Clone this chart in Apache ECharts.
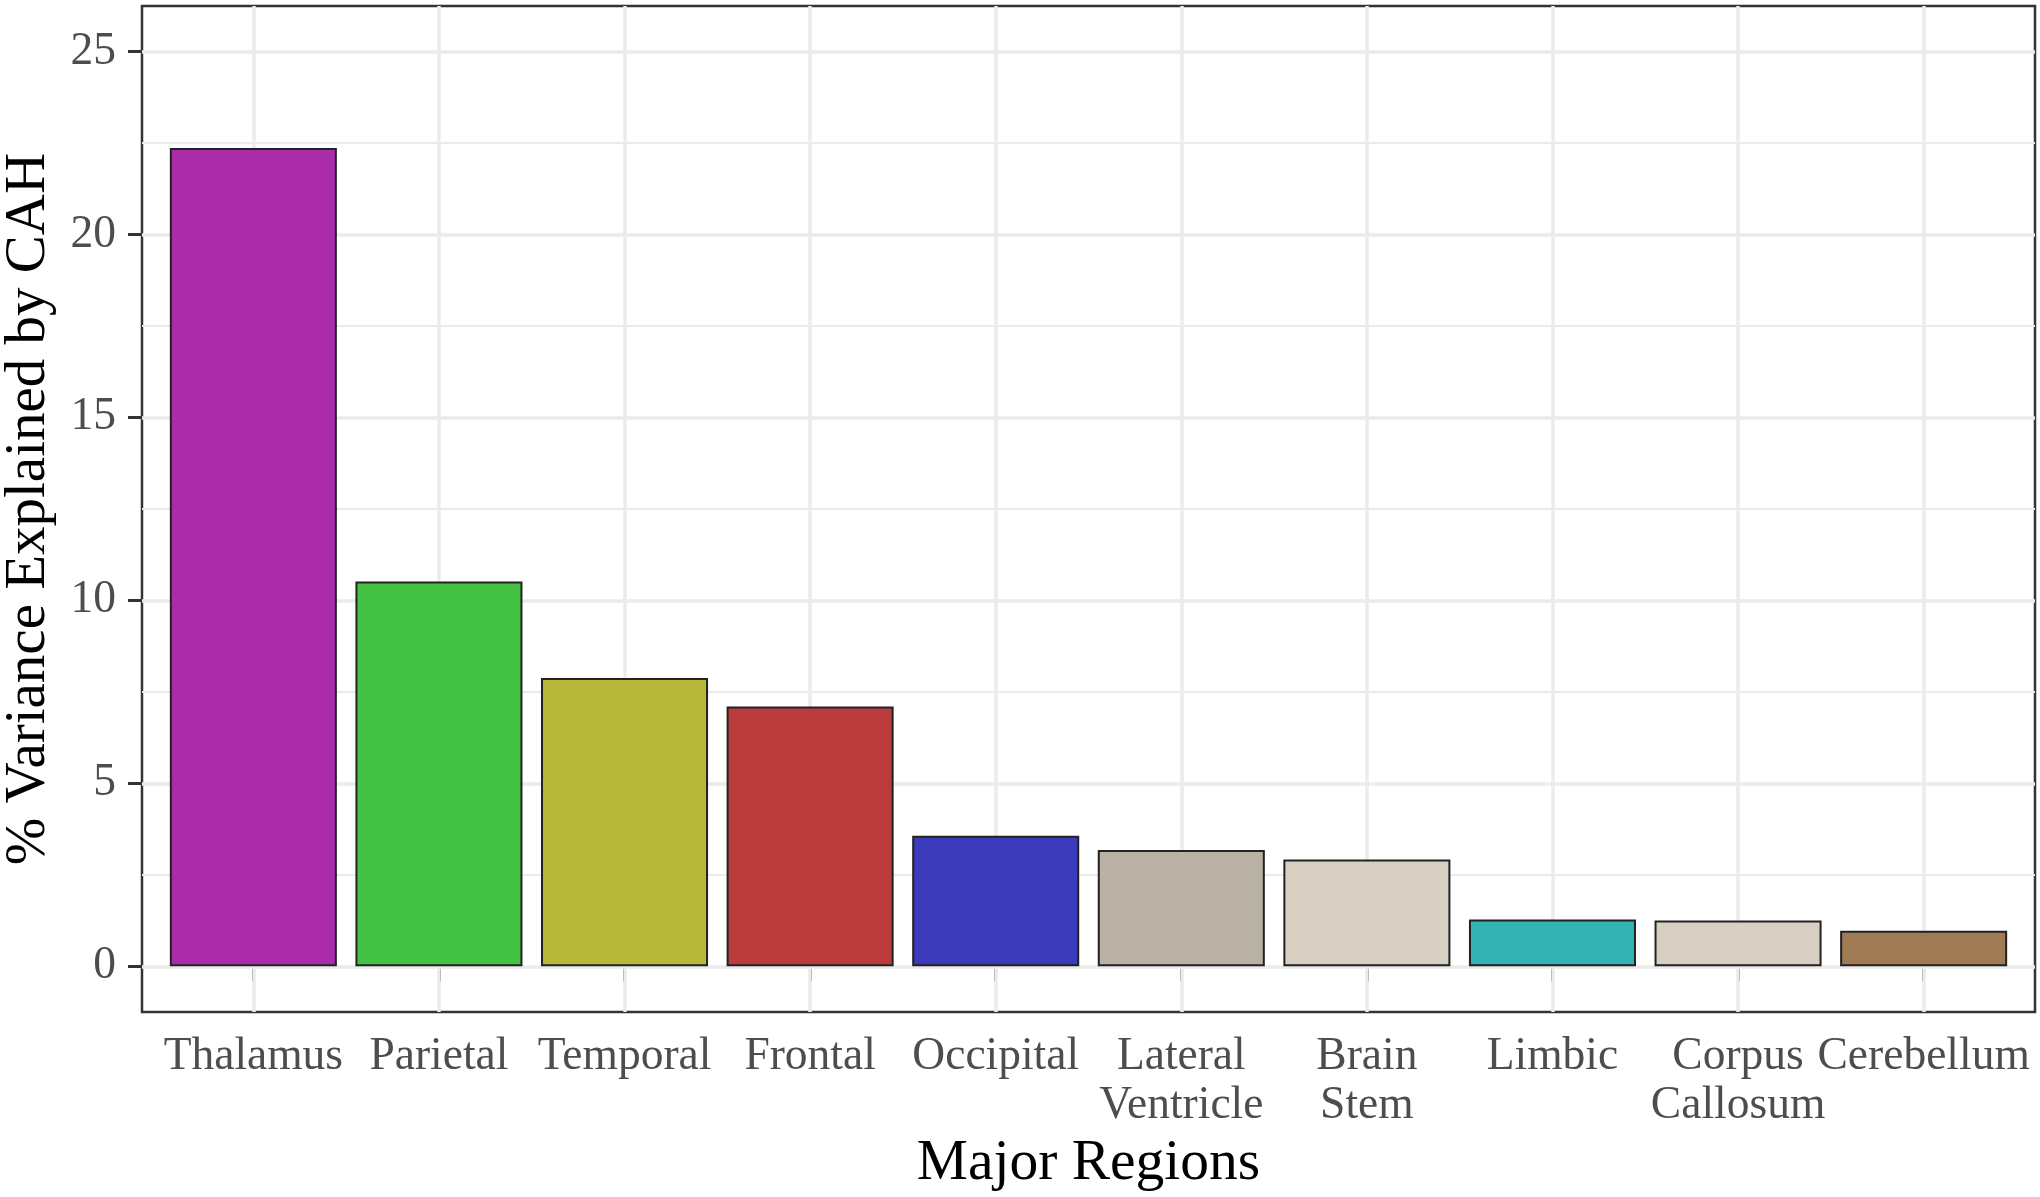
<!DOCTYPE html>
<html>
<head>
<meta charset="utf-8">
<script src="https://cdn.jsdelivr.net/npm/echarts@6/dist/echarts.min.js"></script>
<style>
html,body{margin:0;padding:0;background:#fff;}
#chart{width:2040px;height:1197px;}
</style>
</head>
<body>
<div id="chart"></div>
<script>
const categories = ['Thalamus','Parietal','Temporal','Frontal','Occipital','Lateral\nVentricle','Brain\nStem','Limbic','Corpus\nCallosum','Cerebellum'];
const values = [22.37, 10.52, 7.88, 7.10, 3.57, 3.18, 2.92, 1.28, 1.25, 0.97];
const barColors = ['#AA2CAA','#44C244','#B8B83A','#BA3C3C','#3A3ABA','#B9B1A3','#D7CFC2','#33B3B3','#D7CFC2','#9F7A55'];
const yTicks = [0, 5, 10, 15, 20, 25];
const yMinor = [2.5, 7.5, 12.5, 17.5, 22.5];
const positions = categories.map((c, i) => i + 1);
const posOdd = positions.filter(p => p % 2 === 1);
const posEven = positions.filter(p => p % 2 === 0);

const FONT = 'Liberation Serif';
const chart = echarts.init(document.getElementById('chart'), null, {renderer: 'canvas'});

const gridLines = [];
yMinor.forEach(v => gridLines.push({yAxis: v, lineStyle: {color: '#EBEBEB', width: 1.8, type: 'solid'}}));
yTicks.forEach(v => gridLines.push({yAxis: v, lineStyle: {color: '#EBEBEB', width: 3.5, type: 'solid'}}));
positions.forEach(v => gridLines.push({xAxis: v, lineStyle: {color: '#EBEBEB', width: 3.5, type: 'solid'}}));

const labelStyle = {formatter: v => categories[Math.round(v) - 1], fontFamily: FONT, fontSize: 45.5, color: '#4D4D4D', margin: 21, lineHeight: 48.5, align: 'center', hideOverlap: false, showMinLabel: true, showMaxLabel: true};

chart.setOption({
  backgroundColor: '#ffffff',
  animation: false,
  grid: {left: 142, right: 5, top: 6, bottom: 185, show: true, borderColor: '#333333', borderWidth: 2.5, backgroundColor: 'transparent', containLabel: false, outerBoundsMode: 'none'},
  xAxis: [{
    type: 'value', min: 0.4, max: 10.6, position: 'bottom',
    name: 'Major Regions', nameLocation: 'middle', nameGap: 86,
    nameTextStyle: {fontFamily: FONT, fontSize: 57.5, color: '#000'},
    axisLine: {show: false},
    axisTick: {show: true, length: 15, customValues: positions, lineStyle: {color: '#333333', width: 3}},
    axisLabel: Object.assign({customValues: posOdd}, labelStyle),
    splitLine: {show: false}
  }, {
    type: 'value', min: 0.4, max: 10.6, position: 'bottom', offset: 0,
    axisLine: {show: false},
    axisTick: {show: false},
    axisLabel: Object.assign({customValues: posEven}, labelStyle),
    splitLine: {show: false}
  }],
  yAxis: {
    type: 'value', min: -1.25, max: 26.25,
    name: '% Variance Explained by CAH', nameLocation: 'middle', nameGap: 84, nameRotate: 90,
    nameTextStyle: {fontFamily: FONT, fontSize: 57, color: '#000'},
    axisLine: {show: false},
    axisTick: {show: true, length: 14, customValues: yTicks, lineStyle: {color: '#333333', width: 3}},
    axisLabel: {customValues: yTicks, fontFamily: FONT, fontSize: 45.5, color: '#4D4D4D', margin: 26, hideOverlap: false},
    splitLine: {show: false}
  },
  series: [
    {
      type: 'line', data: [], z: 1, silent: true, xAxisIndex: 0,
      markLine: {silent: true, z: 1, zlevel: 0, symbol: ['none', 'none'], label: {show: false}, animation: false, data: gridLines}
    },
    {
      type: 'bar', z: 3, barWidth: '90%', xAxisIndex: 0,
      data: values.map((v, i) => ({value: [positions[i], v], itemStyle: {color: barColors[i]}})),
      itemStyle: {borderColor: '#222222', borderWidth: 2}
    }
  ]
});
</script>
</body>
</html>
